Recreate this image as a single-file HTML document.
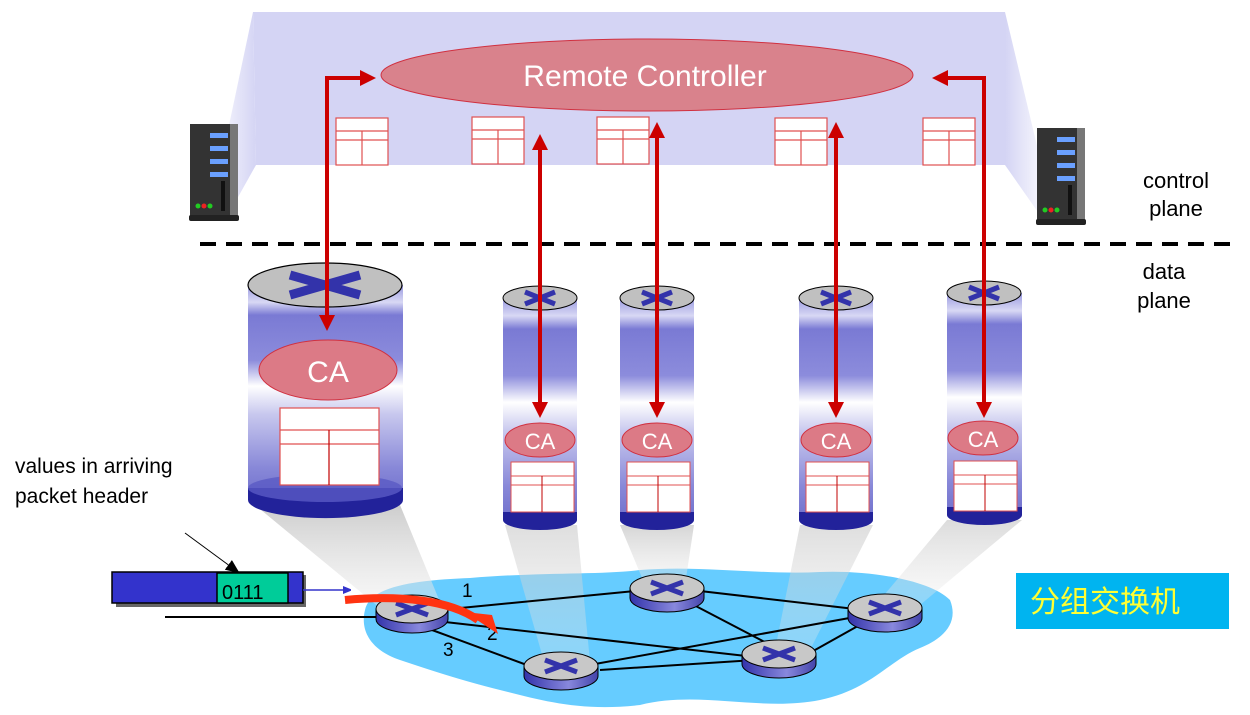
<!DOCTYPE html>
<html><head><meta charset="utf-8"><style>
html,body{margin:0;padding:0;background:#fff;}
svg{display:block;}
text{font-family:"Liberation Sans",sans-serif;}
</style></head><body>
<svg width="1250" height="715" viewBox="0 0 1250 715" xmlns="http://www.w3.org/2000/svg">
<defs>
<linearGradient id="cyl" x1="0" y1="0" x2="0" y2="1">
<stop offset="0" stop-color="#9a9ae0"/>
<stop offset="0.08" stop-color="#d8d8f4"/>
<stop offset="0.14" stop-color="#7a7ad4"/>
<stop offset="0.35" stop-color="#8c8cdc"/>
<stop offset="0.47" stop-color="#ffffff"/>
<stop offset="0.6" stop-color="#c8c8ee"/>
<stop offset="0.85" stop-color="#8888d8"/>
<stop offset="1" stop-color="#7070cc"/>
</linearGradient>
<linearGradient id="beam" x1="0" y1="0" x2="0" y2="1">
<stop offset="0" stop-color="#c4c4c4"/>
<stop offset="1" stop-color="#eeeeee" stop-opacity="0.5"/>
</linearGradient>
<linearGradient id="side" x1="0" y1="0" x2="1" y2="0">
<stop offset="0" stop-color="#3333aa"/>
<stop offset="0.6" stop-color="#8888dd"/>
<stop offset="1" stop-color="#4444aa"/>
</linearGradient>
<linearGradient id="fadeL" x1="1" y1="0" x2="0" y2="0">
<stop offset="0" stop-color="#d4d4f4"/>
<stop offset="1" stop-color="#ffffff"/>
</linearGradient>
<linearGradient id="fadeR" x1="0" y1="0" x2="1" y2="0">
<stop offset="0" stop-color="#d4d4f4"/>
<stop offset="1" stop-color="#ffffff"/>
</linearGradient>
<marker id="ah" markerWidth="4" markerHeight="4" refX="2.5" refY="2" orient="auto-start-reverse" markerUnits="strokeWidth">
<path d="M0,0 L4,2 L0,4 z" fill="#cc0000"/>
</marker>
<marker id="ab" markerWidth="8" markerHeight="8" refX="7" refY="4" orient="auto" markerUnits="userSpaceOnUse">
<path d="M0,0 L10,4 L0,8 z" fill="#3333cc"/>
</marker>
<marker id="ak" markerWidth="14" markerHeight="12" refX="12" refY="6" orient="auto" markerUnits="userSpaceOnUse">
<path d="M0,0 L14,6 L0,12 z" fill="#000"/>
</marker>
</defs>

<polygon points="253,12 1005,12 1005,165 256,165" fill="#d4d4f4"/>
<polygon points="253,12 256,165 228,215 210,215" fill="url(#fadeL)"/>
<polygon points="1005,12 1005,165 1040,215 1050,200" fill="url(#fadeR)"/>

<g>
<rect x="190" y="124" width="42" height="94" fill="#333"/>
<rect x="230" y="124" width="8" height="94" fill="#777"/>
<rect x="210" y="133" width="18" height="5" fill="#6aa0ff"/>
<rect x="210" y="146" width="18" height="5" fill="#6aa0ff"/>
<rect x="210" y="159" width="18" height="5" fill="#6aa0ff"/>
<rect x="210" y="172" width="18" height="5" fill="#6aa0ff"/>
<rect x="221" y="181" width="4" height="30" fill="#111"/>
<circle cx="198" cy="206" r="2.5" fill="#2c2"/><circle cx="204" cy="206" r="2.5" fill="#e22"/><circle cx="210" cy="206" r="2.5" fill="#2c2"/>
<rect x="189" y="215" width="50" height="6" rx="2" fill="#222"/>
</g>
<g>
<rect x="1037" y="128" width="42" height="94" fill="#333"/>
<rect x="1077" y="128" width="8" height="94" fill="#777"/>
<rect x="1057" y="137" width="18" height="5" fill="#6aa0ff"/>
<rect x="1057" y="150" width="18" height="5" fill="#6aa0ff"/>
<rect x="1057" y="163" width="18" height="5" fill="#6aa0ff"/>
<rect x="1057" y="176" width="18" height="5" fill="#6aa0ff"/>
<rect x="1068" y="185" width="4" height="30" fill="#111"/>
<circle cx="1045" cy="210" r="2.5" fill="#2c2"/><circle cx="1051" cy="210" r="2.5" fill="#e22"/><circle cx="1057" cy="210" r="2.5" fill="#2c2"/>
<rect x="1036" y="219" width="50" height="6" rx="2" fill="#222"/>
</g>

<ellipse cx="647" cy="75" rx="266" ry="36" fill="#d9828c" stroke="#d03040" stroke-width="1"/>
<text x="645" y="86" font-size="30" fill="#fff" text-anchor="middle">Remote Controller</text>

<g fill="#fff" stroke="#e05050" stroke-width="1.2">
<rect x="336" y="118" width="52" height="47"/><line x1="336" y1="131" x2="388" y2="131"/><line x1="336" y1="140" x2="388" y2="140"/><line x1="362" y1="131" x2="362" y2="165"/>
<rect x="472" y="117" width="52" height="47"/><line x1="472" y1="130" x2="524" y2="130"/><line x1="472" y1="139" x2="524" y2="139"/><line x1="498" y1="130" x2="498" y2="164"/>
<rect x="597" y="117" width="52" height="47"/><line x1="597" y1="130" x2="649" y2="130"/><line x1="597" y1="139" x2="649" y2="139"/><line x1="623" y1="130" x2="623" y2="164"/>
<rect x="775" y="118" width="52" height="47"/><line x1="775" y1="131" x2="827" y2="131"/><line x1="775" y1="140" x2="827" y2="140"/><line x1="801" y1="131" x2="801" y2="165"/>
<rect x="923" y="118" width="52" height="47"/><line x1="923" y1="131" x2="975" y2="131"/><line x1="923" y1="140" x2="975" y2="140"/><line x1="949" y1="131" x2="949" y2="165"/>
</g>

<line x1="200" y1="244" x2="1240" y2="244" stroke="#000" stroke-width="4" stroke-dasharray="16,10"/>
<text x="1176" y="188" font-size="22" text-anchor="middle">control</text>
<text x="1176" y="216" font-size="22" text-anchor="middle">plane</text>
<text x="1164" y="279" font-size="22" text-anchor="middle">data</text>
<text x="1164" y="308" font-size="22" text-anchor="middle">plane</text>

<path d="M365,610 C370,585 420,580 470,578 C540,572 600,575 640,570 C700,565 760,575 820,572 C870,570 930,580 950,600 C960,625 940,640 920,648 C890,660 870,690 820,700 C760,712 700,690 640,705 C580,712 540,700 500,690 C460,680 430,670 400,660 C370,650 360,630 365,610 Z" fill="#66ccff"/>

<polygon points="255,505 400,505 440,602 380,608" fill="url(#beam)" opacity="0.85"/>
<polygon points="505,525 577,525 590,662 545,665" fill="url(#beam)" opacity="0.55"/>
<polygon points="620,525 694,525 685,585 645,585" fill="url(#beam)" opacity="0.7"/>
<polygon points="800,525 873,525 810,650 775,650" fill="url(#beam)" opacity="0.55"/>
<polygon points="947,520 1022,520 920,605 880,600" fill="url(#beam)" opacity="0.6"/>

<g stroke="#000" stroke-width="2">
<line x1="440" y1="610" x2="635" y2="591"/>
<line x1="445" y1="622" x2="755" y2="657"/>
<line x1="432" y1="630" x2="535" y2="668"/>
<line x1="600" y1="670" x2="755" y2="660"/>
<line x1="595" y1="664" x2="855" y2="617"/>
<line x1="700" y1="591" x2="855" y2="609"/>
<line x1="690" y1="603" x2="780" y2="650"/>
<line x1="815" y1="650" x2="865" y2="622"/>
<line x1="165" y1="617" x2="378" y2="617"/>
</g>

<g stroke="#000" stroke-width="1">
<path d="M376,609 v10 a36,14 0 0 0 72,0 v-10 z" fill="url(#side)"/>
<ellipse cx="412" cy="609" rx="36" ry="14" fill="#c8c8c8"/>
<path d="M630,588 v10 a37,14 0 0 0 74,0 v-10 z" fill="url(#side)"/>
<ellipse cx="667" cy="588" rx="37" ry="14" fill="#c8c8c8"/>
<path d="M524,666 v10 a37,14 0 0 0 74,0 v-10 z" fill="url(#side)"/>
<ellipse cx="561" cy="666" rx="37" ry="14" fill="#c8c8c8"/>
<path d="M742,654 v10 a37,14 0 0 0 74,0 v-10 z" fill="url(#side)"/>
<ellipse cx="779" cy="654" rx="37" ry="14" fill="#c8c8c8"/>
<path d="M848,608 v10 a37,14 0 0 0 74,0 v-10 z" fill="url(#side)"/>
<ellipse cx="885" cy="608" rx="37" ry="14" fill="#c8c8c8"/>
</g>
<g stroke="#3333aa" stroke-width="5">
<path d="M396,603 L428,615 M396,615 L428,603"/>
<path d="M651,582 L683,594 M651,594 L683,582"/>
<path d="M545,660 L577,672 M545,672 L577,660"/>
<path d="M763,648 L795,660 M763,660 L795,648"/>
<path d="M869,602 L901,614 M869,614 L901,602"/>
</g>
<text x="462" y="597" font-size="19">1</text>
<text x="487" y="640" font-size="19">2</text>
<text x="443" y="656" font-size="19">3</text>
<path d="M345,600 C400,595 450,600 478,620" fill="none" stroke="#ff3311" stroke-width="8"/>
<polygon points="465,612 492,615 498,634" fill="#ff3311"/>

<rect x="116" y="575" width="190" height="32" fill="#666"/>
<rect x="112" y="572" width="191" height="31" fill="#3333cc" stroke="#000" stroke-width="1.5"/>
<rect x="217" y="573" width="71" height="30" fill="#00cc99" stroke="#000" stroke-width="1.5"/>
<text x="222" y="599" font-size="20">0111</text>
<line x1="303" y1="590" x2="350" y2="590" stroke="#3333cc" stroke-width="1.5" marker-end="url(#ab)"/>
<line x1="185" y1="533" x2="238" y2="572" stroke="#000" stroke-width="1" marker-end="url(#ak)"/>
<text x="15" y="473" font-size="21">values in arriving</text>
<text x="15" y="503" font-size="21">packet header</text>

<rect x="248" y="285" width="155" height="215" fill="url(#cyl)"/>
<path d="M248,488 v12 a77,18 0 0 0 155,0 v-12 z" fill="#22229a"/>
<ellipse cx="325" cy="488" rx="77" ry="14" fill="#5a5ac4" opacity="0.8"/>
<ellipse cx="325" cy="285" rx="77" ry="22" fill="#c0c0c0" stroke="#000" stroke-width="1.2"/>
<path d="M290,275 L360,295 M290,295 L360,275" stroke="#3333aa" stroke-width="9"/>
<ellipse cx="328" cy="370" rx="69" ry="30" fill="#dc7a86" stroke="#d03040"/>
<text x="328" y="382" font-size="30" fill="#fff" text-anchor="middle">CA</text>
<g fill="#fff" stroke="#e05050" stroke-width="1.2">
<rect x="280" y="408" width="99" height="77"/><line x1="280" y1="430" x2="379" y2="430"/><line x1="280" y1="444" x2="379" y2="444"/><line x1="329" y1="430" x2="329" y2="485" stroke="#c00000"/>
</g>

<g>
<rect x="503" y="298" width="74" height="222" fill="url(#cyl)"/>
<path d="M503,512 v8 a37,10 0 0 0 74,0 v-8 z" fill="#22229a"/>
<ellipse cx="540" cy="298" rx="37" ry="12" fill="#c0c0c0" stroke="#000"/>
<path d="M525,292 L555,304 M525,304 L555,292" stroke="#3333aa" stroke-width="5"/>
<ellipse cx="540" cy="440" rx="35" ry="17" fill="#dc7a86" stroke="#d03040"/>
<text x="540" y="449" font-size="22" fill="#fff" text-anchor="middle">CA</text>
<rect x="511" y="462" width="63" height="50" fill="#fff" stroke="#e05050"/><line x1="511" y1="476" x2="574" y2="476" stroke="#e05050"/><line x1="511" y1="485" x2="574" y2="485" stroke="#e05050"/><line x1="542" y1="476" x2="542" y2="512" stroke="#c00000"/>
</g>
<g>
<rect x="620" y="298" width="74" height="222" fill="url(#cyl)"/>
<path d="M620,512 v8 a37,10 0 0 0 74,0 v-8 z" fill="#22229a"/>
<ellipse cx="657" cy="298" rx="37" ry="12" fill="#c0c0c0" stroke="#000"/>
<path d="M642,292 L672,304 M642,304 L672,292" stroke="#3333aa" stroke-width="5"/>
<ellipse cx="657" cy="440" rx="35" ry="17" fill="#dc7a86" stroke="#d03040"/>
<text x="657" y="449" font-size="22" fill="#fff" text-anchor="middle">CA</text>
<rect x="627" y="462" width="63" height="50" fill="#fff" stroke="#e05050"/><line x1="627" y1="476" x2="690" y2="476" stroke="#e05050"/><line x1="627" y1="485" x2="690" y2="485" stroke="#e05050"/><line x1="658" y1="476" x2="658" y2="512" stroke="#c00000"/>
</g>
<g>
<rect x="799" y="298" width="74" height="222" fill="url(#cyl)"/>
<path d="M799,512 v8 a37,10 0 0 0 74,0 v-8 z" fill="#22229a"/>
<ellipse cx="836" cy="298" rx="37" ry="12" fill="#c0c0c0" stroke="#000"/>
<path d="M821,292 L851,304 M821,304 L851,292" stroke="#3333aa" stroke-width="5"/>
<ellipse cx="836" cy="440" rx="35" ry="17" fill="#dc7a86" stroke="#d03040"/>
<text x="836" y="449" font-size="22" fill="#fff" text-anchor="middle">CA</text>
<rect x="806" y="462" width="63" height="50" fill="#fff" stroke="#e05050"/><line x1="806" y1="476" x2="869" y2="476" stroke="#e05050"/><line x1="806" y1="485" x2="869" y2="485" stroke="#e05050"/><line x1="837" y1="476" x2="837" y2="512" stroke="#c00000"/>
</g>
<g>
<rect x="947" y="293" width="75" height="222" fill="url(#cyl)"/>
<path d="M947,507 v8 a37.5,10 0 0 0 75,0 v-8 z" fill="#22229a"/>
<ellipse cx="984" cy="293" rx="37" ry="12" fill="#c0c0c0" stroke="#000"/>
<path d="M969,287 L999,299 M969,299 L999,287" stroke="#3333aa" stroke-width="5"/>
<ellipse cx="983" cy="438" rx="35" ry="17" fill="#dc7a86" stroke="#d03040"/>
<text x="983" y="447" font-size="22" fill="#fff" text-anchor="middle">CA</text>
<rect x="954" y="461" width="63" height="50" fill="#fff" stroke="#e05050"/><line x1="954" y1="475" x2="1017" y2="475" stroke="#e05050"/><line x1="954" y1="484" x2="1017" y2="484" stroke="#e05050"/><line x1="985" y1="475" x2="985" y2="511" stroke="#c00000"/>
</g>

<g fill="none" stroke="#cc0000" stroke-width="4">
<polyline points="327,325 327,78 370,78" marker-end="url(#ah)" marker-start="url(#ah)"/>
<polyline points="984,412 984,78 938,78" marker-end="url(#ah)" marker-start="url(#ah)"/>
<line x1="540" y1="140" x2="540" y2="412" marker-end="url(#ah)" marker-start="url(#ah)"/>
<line x1="657" y1="128" x2="657" y2="412" marker-end="url(#ah)" marker-start="url(#ah)"/>
<line x1="836" y1="128" x2="836" y2="412" marker-end="url(#ah)" marker-start="url(#ah)"/>
</g>

<rect x="1016" y="573" width="213" height="56" fill="#00b4f0"/>
<text x="1030" y="612" font-size="30" fill="#ffff33" font-family="'Liberation Sans','Noto Sans CJK SC',sans-serif">分组交换机</text>
</svg>
</body></html>
